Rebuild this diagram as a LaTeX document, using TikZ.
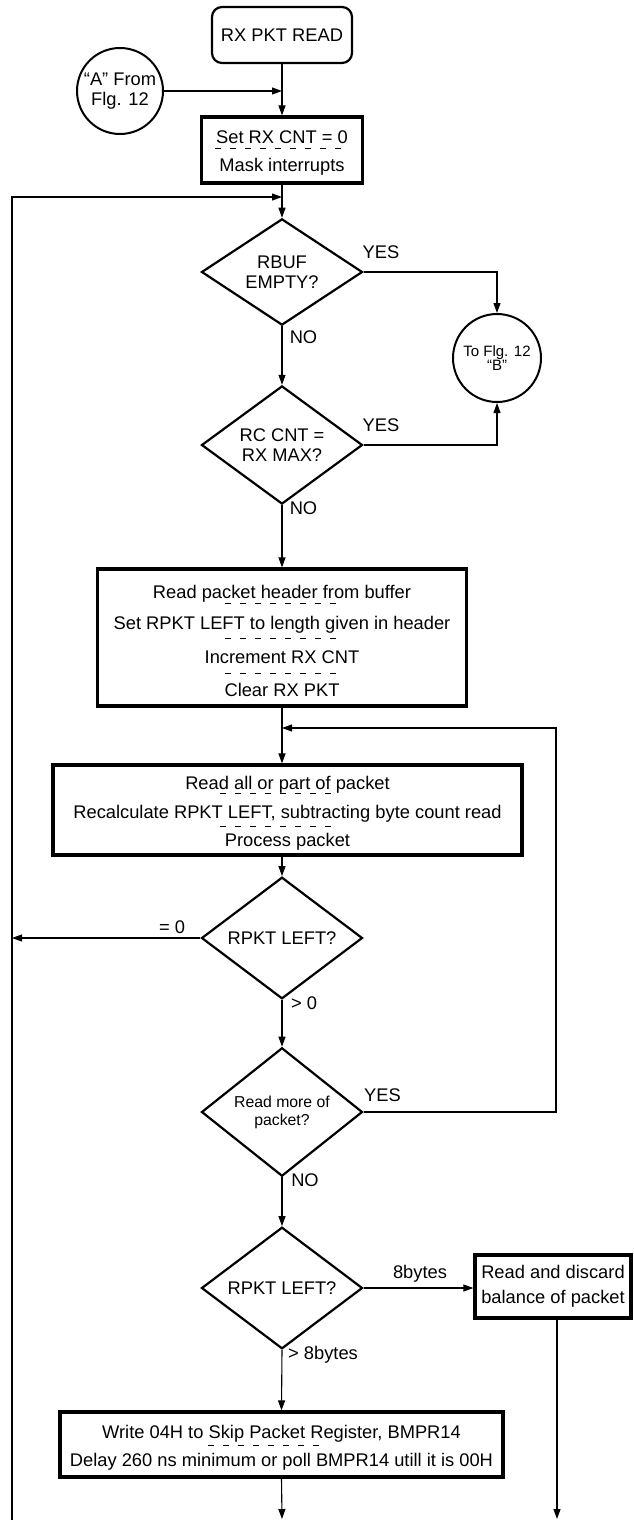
\documentclass[tikz,border=0pt]{standalone}
\usepackage{fontspec}
\setmainfont{Liberation Sans}
\usetikzlibrary{shapes.geometric,arrows.meta}
\newcommand\fsA{\fontsize{18.3}{20.5}\selectfont}
\newcommand\fsB{\fontsize{15}{14}\selectfont}
\newcommand\fsC{\fontsize{15.8}{18}\selectfont}
\newcommand\fsD{\fontsize{18.3}{25}\selectfont}
\tikzset{
  conn/.style={line width=1.1pt, -{Triangle[length=10pt,width=7pt]}},
  pbox/.style={draw, line width=3.2pt, inner sep=0pt},
  dec/.style={draw, diamond, line width=2.2pt, inner sep=0pt, align=center, minimum width=161pt, minimum height=100pt},
  conc/.style={draw, circle, line width=2pt, inner sep=0pt, align=center},
  txt/.style={inner sep=0pt, text height=13pt, text depth=0pt, font=\fsA},
  sepline/.style={line width=0.9pt, dash pattern=on 6pt off 9pt},
}
\begin{document}
\begin{tikzpicture}[x=1pt,y=-1pt]
\useasboundingbox (0,0) rectangle (633,1520);
% nodes
\node[draw, rounded corners=10pt, line width=2.2pt, minimum width=140pt, minimum height=56pt, font=\fsA] (start) at (282,35) {RX PKT READ};
\node[conc, minimum size=86pt, font=\fsA] (A) at (120,91) {“A” From\\Flg. 12};
\node[pbox, minimum width=161pt, minimum height=66pt] (b1) at (282,150) {};
\node[txt] (b1t1) at (282,137) {Set RX CNT = 0};
\node[txt] (b1t2) at (282,165) {Mask interrupts};
\draw[sepline] (215,148) -- (347,148);

\node[dec, font=\fsA] (d1) at (282,272) {RBUF\\EMPTY?};
\node[conc, minimum size=88pt, font=\fsB] (B) at (497,358) {To Flg. 12\\“B”};
\node[dec, font=\fsA] (d2) at (282,445) {RC CNT =\\RX MAX?};

\node[pbox, minimum width=369pt, minimum height=137pt] (b3) at (282,637.5) {};
\node[txt] (b3t1) at (282,592) {Read packet header from buffer};
\node[txt] (b3t2) at (282,623) {Set RPKT LEFT to length given in header};
\node[txt] (b3t3) at (282,657) {Increment RX CNT};
\node[txt] (b3t4) at (282,690) {Clear RX PKT};
\draw[sepline] (225,603) -- (342,603);
\draw[sepline] (225,638) -- (342,638);
\draw[sepline] (225,673) -- (342,673);

\node[pbox, minimum width=469pt, minimum height=90pt] (b4) at (287.5,810) {};
\node[txt] (b4t1) at (287.5,783) {Read all or part of packet};
\node[txt] (b4t2) at (287.5,812) {Recalculate RPKT LEFT, subtracting byte count read};
\node[txt] (b4t3) at (287.5,840) {Process packet};
\draw[sepline] (220,793) -- (337,793);
\draw[sepline] (220,826) -- (337,826);

\node[dec, font=\fsA] (d3) at (282,938) {RPKT LEFT?};
\node[dec, font=\fsC] (d4) at (282,1112) {Read more of\\packet?};
\node[dec, font=\fsA] (d5) at (282,1288) {RPKT LEFT?};
\node[pbox, minimum width=156pt, minimum height=63pt, font=\fsD, align=center] (rd) at (553,1286.5) {Read and discard\\balance of packet};

\node[pbox, minimum width=443pt, minimum height=65pt] (b6) at (281.5,1444.5) {};
\node[txt] (b6t1) at (281.5,1432) {Write 04H to Skip Packet Register, BMPR14};
\node[txt] (b6t2) at (281.5,1460) {Delay 260 ns minimum or poll BMPR14 utill it is 00H};
\draw[sepline] (208,1445) -- (327,1445);

% labels
\node[txt] (y1) at (381,252) {YES};
\node[txt] (n1) at (303.5,337) {NO};
\node[txt] (y2) at (381,425) {YES};
\node[txt] (n2) at (303.5,508) {NO};
\node[txt] (z0) at (172,927) {= 0};
\node[txt] (g0) at (304,1003) {> 0};
\node[txt] (y4) at (382.5,1095) {YES};
\node[txt] (n4) at (305,1180) {NO};
\node[txt] (e8) at (420,1272) {8bytes};
\node[txt] (g8) at (323,1353) {> 8bytes};

% coordinates
\coordinate (mA) at (282,91);
\coordinate (Lbot) at (12,1520);
\coordinate (Ltop) at (12,197);
\coordinate (mTop) at (282,197);
\coordinate (loopR) at (556,728);
\coordinate (mLoop) at (282,728);
\coordinate (Lmid) at (12,938);
\coordinate (endM) at (282,1519);
\coordinate (endR) at (557,1519);

% connectors
\draw[conn] (start.south) -- (b1.north);
\draw[conn] (A.east) -- (mA);
\draw[conn] (b1.south) -- (d1.north);
\draw[conn] (Lbot) -- (Ltop) -- (mTop);
\draw[conn] (d1.east) -| (B.north);
\draw[conn] (d1.south) -- (d2.north);
\draw[conn] (d2.east) -| (B.south);
\draw[conn] (d2.south) -- (b3.north);
\draw[conn] (b3.south) -- (b3.south |- b4.north);
\draw[conn] (d4.east) -| (loopR) -- (mLoop);
\draw[conn] (d3.north |- b4.south) -- (d3.north);
\draw[conn] (d3.west) -- (Lmid);
\draw[conn] (d3.south) -- (d4.north);
\draw[conn] (d4.south) -- (d5.north);
\draw[conn] (d5.east) -- (d5.east -| rd.west);
\draw[conn] (d5.south) -- (b6.north);
\draw[conn] (b6.south) -- (endM);
\draw[conn] (rd.south -| endR) -- (endR);
\end{tikzpicture}
\end{document}
